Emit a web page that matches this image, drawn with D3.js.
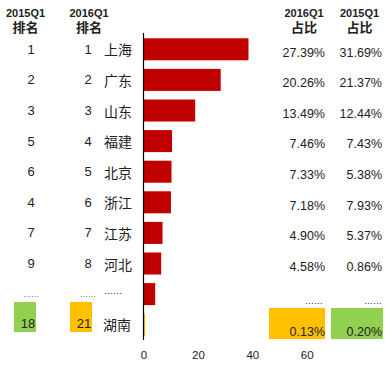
<!DOCTYPE html>
<html>
<head>
<meta charset="utf-8">
<script src="https://cdn.jsdelivr.net/npm/d3@7"></script>
<style>
  html, body { margin: 0; padding: 0; background: #fff; }
  svg { display: block; }
  .num { font-family: "Liberation Sans", Arial, sans-serif; fill: #222; }
  .cjk { font-family: "Noto Sans CJK SC", "Liberation Sans", sans-serif; fill: #222; }
</style>
</head>
<body>
<svg id="chart" width="392" height="368"></svg>
<script>
// ---- data ----
const provinces = ["上海", "广东", "山东", "福建", "北京", "浙江", "江苏", "河北", "……", "湖南"];
const rank2015 = ["1", "2", "3", "5", "6", "4", "7", "9", "……", "18"];
const rank2016 = ["1", "2", "3", "4", "5", "6", "7", "8", "……", "21"];
const barValues = [38.6, 28.4, 19.0, 10.5, 10.3, 10.1, 7.0, 6.5, 4.3, 0.6];
const share2016 = ["27.39%", "20.26%", "13.49%", "7.46%", "7.33%", "7.18%", "4.90%", "4.58%", "……", "0.13%"];
const share2015 = ["31.69%", "21.37%", "12.44%", "7.43%", "5.38%", "7.93%", "5.37%", "0.86%", "……", "0.20%"];
const xTicks = [0, 20, 40, 60];
const headerTop = ["2015Q1", "2016Q1", "2016Q1", "2015Q1"];
const headerBottom = ["排名", "排名", "占比", "占比"];

// ---- layout ----
const svg = d3.select("#chart");
const RED = "#C00000", YELLOW = "#FFC000", GREEN = "#92D050";
const lastIdx = provinces.length - 1;
const dotsIdx = provinces.indexOf("……");

const x = d3.scaleLinear().domain([0, 60]).range([143.5, 306.7]);
const y = d3.scaleBand().domain(provinces).range([34, 340]).paddingInner(0.28).paddingOuter(0.14);
const cy = p => y(p) + y.bandwidth() / 2;

// headers
const headerX = [25.5, 89, 304, 359.5];
const hdr = svg.append("g");
hdr.selectAll("text.top").data(headerTop).join("text")
  .attr("class", "num top")
  .attr("x", (d, i) => headerX[i]).attr("y", 13).attr("dy", "0.35em")
  .attr("text-anchor", "middle").attr("font-size", 11).attr("font-weight", "bold")
  .text(d => d);
hdr.selectAll("text.bot").data(headerBottom).join("text")
  .attr("class", "cjk bot")
  .attr("x", (d, i) => headerX[i]).attr("y", 27.5).attr("dy", "0.36em")
  .attr("text-anchor", "middle").attr("font-size", 13).attr("font-weight", "bold")
  .text(d => d);

// highlight boxes (last row)
svg.append("rect").attr("x", 14).attr("y", 302).attr("width", 22).attr("height", 30).attr("fill", GREEN);
svg.append("rect").attr("x", 70).attr("y", 302).attr("width", 22).attr("height", 30).attr("fill", YELLOW);
svg.append("rect").attr("x", 269).attr("y", 308).attr("width", 56).attr("height", 31).attr("fill", YELLOW);
svg.append("rect").attr("x", 331).attr("y", 308).attr("width", 52).attr("height", 31).attr("fill", GREEN);

// bars
svg.append("g").selectAll("rect").data(provinces).join("rect")
  .attr("x", x(0))
  .attr("y", d => y(d))
  .attr("width", (d, i) => x(barValues[i]) - x(0))
  .attr("height", y.bandwidth())
  .attr("fill", (d, i) => i === lastIdx ? YELLOW : RED);

// y axis line
svg.append("line").attr("x1", x(0)).attr("x2", x(0)).attr("y1", 33).attr("y2", 340)
  .attr("stroke", "#000").attr("stroke-width", 1.2);

// x axis tick labels
const xAxis = d3.axisBottom(x).tickValues(xTicks).tickSize(0).tickPadding(0);
const gx = svg.append("g").attr("transform", "translate(0,351)").call(xAxis);
gx.select(".domain").remove();
gx.selectAll("text").attr("class", "num").attr("font-size", 11.5).attr("fill", "#222")
  .style("font-family", "'Liberation Sans', Arial, sans-serif");

// rank columns
function rowY(i, base) {
  if (i === dotsIdx) return 297;
  if (i === lastIdx) return 323;
  return base;
}
svg.append("g").selectAll("text").data(rank2015).join("text")
  .attr("class", "num").attr("text-anchor", "middle")
  .attr("x", (d, i) => i === lastIdx ? 28 : 31)
  .attr("y", (d, i) => rowY(i, cy(provinces[i]))).attr("dy", (d, i) => i === dotsIdx ? "0" : "0.35em")
  .attr("font-size", (d, i) => i === dotsIdx ? 8 : 13)
  .text(d => d);
svg.append("g").selectAll("text").data(rank2016).join("text")
  .attr("class", "num").attr("text-anchor", "middle")
  .attr("x", (d, i) => i === lastIdx ? 84 : 88)
  .attr("y", (d, i) => rowY(i, cy(provinces[i]))).attr("dy", (d, i) => i === dotsIdx ? "0" : "0.35em")
  .attr("font-size", (d, i) => i === dotsIdx ? 8 : 13)
  .text(d => d);

// province names
svg.append("g").selectAll("text").data(provinces).join("text")
  .attr("class", "cjk").attr("text-anchor", "start")
  .attr("x", (d, i) => i === lastIdx ? 103 : 104)
  .attr("y", (d, i) => i === dotsIdx ? 297 : (i === lastIdx ? 325 : cy(d) + 1))
  .attr("dy", (d, i) => i === dotsIdx ? "0" : "0.36em")
  .attr("font-size", (d, i) => i === dotsIdx ? 9 : 14)
  .text(d => d);

// share columns
function shareY(i) {
  if (i === dotsIdx) return 304;
  if (i === lastIdx) return 332;
  return cy(provinces[i]) + 3;
}
svg.append("g").selectAll("text").data(share2016).join("text")
  .attr("class", "num").attr("text-anchor", "end")
  .attr("x", (d, i) => i === dotsIdx ? 323 : 325)
  .attr("y", (d, i) => shareY(i)).attr("dy", (d, i) => i === dotsIdx ? "0" : "0.35em")
  .attr("font-size", (d, i) => i === dotsIdx ? 9 : 12.5)
  .text(d => d);
svg.append("g").selectAll("text").data(share2015).join("text")
  .attr("class", "num").attr("text-anchor", "end")
  .attr("x", 382)
  .attr("y", (d, i) => shareY(i)).attr("dy", (d, i) => i === dotsIdx ? "0" : "0.35em")
  .attr("font-size", (d, i) => i === dotsIdx ? 9 : 12.5)
  .text(d => d);
</script>
</body>
</html>
